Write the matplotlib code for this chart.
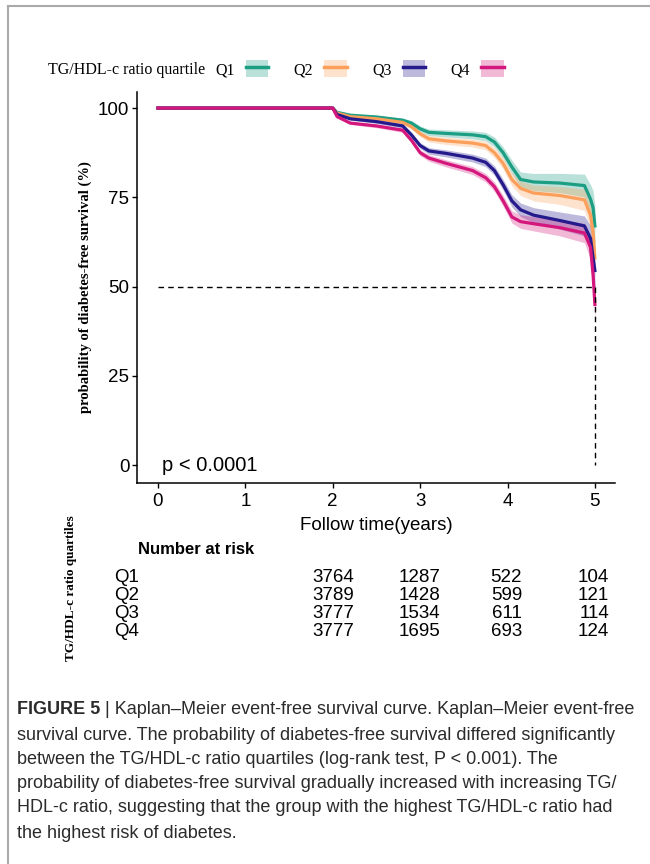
import matplotlib
matplotlib.use("Agg")
from matplotlib import pyplot as plt
from matplotlib.lines import Line2D
from matplotlib.patches import Patch
import numpy as np

# follow-up time (years) at which the curves are read
times = [0, 2.0, 2.05, 2.2, 2.5, 2.8, 2.9, 3.0, 3.1, 3.3, 3.6, 3.75, 3.85,
         3.95, 4.05, 4.15, 4.3, 4.6, 4.88, 4.95, 4.98, 5.0]

# diabetes-free survival (%) per quartile
surv_q1 = [100, 100, 98.8, 98.0, 97.5, 96.6, 95.8, 94.2, 93.2, 92.9, 92.5, 92.0,
           90.5, 87.5, 83.5, 80.0, 79.3, 79.0, 78.3, 74.5, 72.0, 67.0]
surv_q2 = [100, 100, 98.6, 97.6, 97.0, 96.0, 94.8, 92.8, 91.4, 90.8, 90.2, 89.5,
           87.5, 84.5, 80.0, 77.5, 76.2, 75.5, 74.3, 70.0, 65.0, 58.0]
surv_q3 = [100, 100, 98.2, 97.0, 96.2, 95.0, 92.5, 89.5, 88.0, 87.3, 86.0, 84.8,
           82.5, 78.5, 74.0, 71.5, 70.0, 68.5, 67.0, 63.5, 58.0, 54.5]
surv_q4 = [100, 100, 97.6, 95.8, 95.0, 93.8, 91.0, 87.5, 86.0, 84.5, 82.5, 80.5,
           78.0, 74.0, 69.5, 68.2, 67.6, 66.5, 65.0, 61.0, 53.0, 45.0]

# half width of the 95% confidence band (%)
ci_q1 = [0, 0, 0.3, 0.4, 0.5, 0.6, 0.7, 0.8, 0.9, 1.0, 1.1, 1.2, 1.4, 1.6, 1.9,
         2.1, 2.4, 2.7, 3.2, 4.0, 4.8, 5.5]
ci_q2 = [0, 0, 0.3, 0.4, 0.5, 0.6, 0.7, 0.8, 0.9, 1.0, 1.1, 1.2, 1.4, 1.6, 1.8,
         2.0, 2.2, 2.5, 3.0, 3.8, 4.5, 5.0]
ci_q3 = [0, 0, 0.3, 0.4, 0.5, 0.6, 0.7, 0.8, 0.9, 1.0, 1.1, 1.2, 1.3, 1.5, 1.7,
         1.9, 2.1, 2.4, 2.8, 3.5, 4.2, 4.8]
ci_q4 = [0, 0, 0.3, 0.4, 0.5, 0.6, 0.7, 0.8, 0.9, 1.0, 1.1, 1.2, 1.3, 1.5, 1.7,
         1.9, 2.0, 2.3, 2.7, 3.4, 4.0, 4.5]

groups = ["Q1", "Q2", "Q3", "Q4"]
colors = ["#1b9e83", "#fb9f5a", "#241a8c", "#d4177c"]

# number at risk table
risk_q1 = [3764, 1287, 522, 104]
risk_q2 = [3789, 1428, 599, 121]
risk_q3 = [3777, 1534, 611, 114]
risk_q4 = [3777, 1695, 693, 124]

caption_lines = [
    "Kaplan\u2013Meier event-free survival curve. Kaplan\u2013Meier event-free",
    "survival curve. The probability of diabetes-free survival differed significantly",
    "between the TG/HDL-c ratio quartiles (log-rank test, P < 0.001). The",
    "probability of diabetes-free survival gradually increased with increasing TG/",
    "HDL-c ratio, suggesting that the group with the highest TG/HDL-c ratio had",
    "the highest risk of diabetes.",
]

SANS = ["Liberation Sans", "DejaVu Sans"]
SERIF = ["Liberation Serif", "DejaVu Serif"]
plt.rcParams['font.family'] = SANS

W, H = 650, 864
fig = plt.figure(figsize=(W / 100, H / 100), dpi=100)

def fx(px):
    return px / W

def fy(py):
    return 1 - py / H

ax = fig.add_axes([fx(137), fy(483), fx(615) - fx(137), fy(92) - fy(483)])
ax.set_xlim(-0.24, 5.23)
ax.set_ylim(-5.0, 104.5)

surv = [surv_q1, surv_q2, surv_q3, surv_q4]
cis = [ci_q1, ci_q2, ci_q3, ci_q4]
t = np.array(times)
for name, s, ci, c in zip(groups, surv, cis, colors):
    s = np.array(s)
    ci = np.array(ci)
    ax.fill_between(t, s - ci, np.minimum(s + ci, 100), color=c, alpha=0.3, lw=0)
    ax.plot(t, s, color=c, lw=2.3, solid_joinstyle='round')

# median survival reference lines
ax.plot([0, 5], [50, 50], color="black", lw=1, ls=(0, (4, 3)))
ax.plot([5, 5], [50, 0], color="black", lw=1, ls=(0, (4, 3)))

for sp in ["top", "right"]:
    ax.spines[sp].set_visible(False)
for sp in ["left", "bottom"]:
    ax.spines[sp].set_linewidth(1.1)
ax.set_xticks(range(6))
ax.set_yticks([0, 25, 50, 75, 100])
ax.tick_params(labelsize=13.5, length=3.5, width=1, direction="out", pad=2)
ax.tick_params(axis="x", pad=3.5)
ax.set_xlabel("Follow time(years)", fontsize=13.5, labelpad=5)
ax.set_ylabel("probability of diabetes-free survival (%)", family=SERIF,
              fontweight="bold", fontsize=10.5, labelpad=4)
ax.text(0.05, 0, "p < 0.0001", fontsize=14.5, va="center", ha="left")

# legend on top
handles = [(Patch(facecolor=c, alpha=0.3, lw=0), Line2D([], [], color=c, lw=2.5))
           for c in colors]
fig.text(fx(48), fy(70), "TG/HDL-c ratio quartile", family=SERIF, fontsize=11.5,
         va="center", ha="left")
fig.legend(handles, groups, loc="center left", bbox_to_anchor=(fx(215), fy(69)),
           ncol=4, frameon=False, markerfirst=False, prop={"family": SERIF, "size": 11.5},
           handlelength=1.4, handleheight=1.3, handletextpad=0.7, columnspacing=1.6,
           borderpad=0, borderaxespad=0)

# number at risk table
fig.text(fx(138), fy(550), "Number at risk", fontsize=12, fontweight="bold",
         va="center", ha="left")
row_y = [577, 595, 613, 632]
col_x = [354, 440, 522, 609]
risks = [risk_q1, risk_q2, risk_q3, risk_q4]
for name, r, y in zip(groups, risks, row_y):
    fig.text(fx(114), fy(y), name, fontsize=13.5, va="center", ha="left")
    for val, x in zip(r, col_x):
        fig.text(fx(x), fy(y), str(val), fontsize=13.5, va="center", ha="right")
fig.text(fx(71), fy(588), "TG/HDL-c ratio quartiles", family=SERIF, fontweight="bold",
         fontsize=9.5, rotation=90, va="center", ha="center")

# caption
cap_color = "#2b2b2b"
cap_size = 13
line_y = [710, 735, 759, 784, 808, 833]
head = fig.text(fx(17), fy(line_y[0]), "FIGURE 5", fontsize=cap_size,
                fontweight="bold", color=cap_color, va="center", ha="left")
fig.canvas.draw()
bb = head.get_window_extent()
fig.text(bb.x1 / W, fy(line_y[0]), " | " + caption_lines[0],
         fontsize=cap_size, color=cap_color, va="center", ha="left")
for txt, y in zip(caption_lines[1:], line_y[1:]):
    fig.text(fx(17), fy(y), txt, fontsize=cap_size, color=cap_color,
             va="center", ha="left")

# page frame
frame = dict(color="#aaaaaa", lw=1.5, transform=fig.transFigure)
fig.add_artist(Line2D([fx(8), fx(8)], [0, fy(6)], **frame))
fig.add_artist(Line2D([fx(8), 1], [fy(6), fy(6)], **frame))

fig.savefig("out.png", dpi=100)
